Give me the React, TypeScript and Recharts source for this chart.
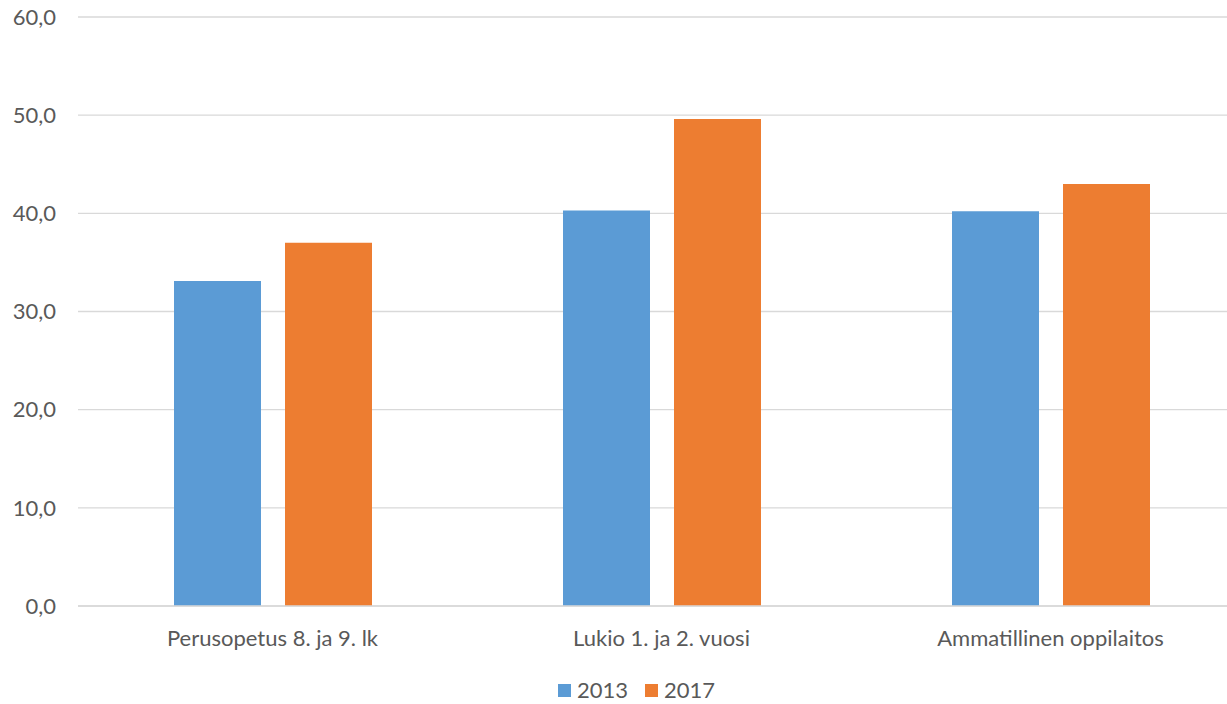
import React from 'react';
import { BarChart, Bar, XAxis, YAxis, CartesianGrid, Legend } from 'recharts';

const categories = ['Perusopetus 8. ja 9. lk', 'Lukio 1. ja 2. vuosi', 'Ammatillinen oppilaitos'];
const values2013 = [33.1, 40.3, 40.2];
const values2017 = [37.0, 49.6, 43.0];
const yTicks = [0, 10, 20, 30, 40, 50, 60];

const data = categories.map((name, i) => ({
  name,
  y2013: values2013[i],
  y2017: values2017[i],
}));

const fontFamily = 'Lato, "Open Sans", sans-serif';
const textColor = '#595959';

const fmt = (v: number) => v.toFixed(1).replace('.', ',');

const renderLegend = (props: any) => {
  const { payload = [] } = props;
  return (
    <div style={{ display: 'flex', justifyContent: 'center', alignItems: 'center', gap: 17 }}>
      {payload.map((entry: any) => (
        <div key={entry.value} style={{ display: 'flex', alignItems: 'center', gap: 6 }}>
          <span style={{ width: 13, height: 13, background: entry.color, display: 'inline-block' }} />
          <span style={{ color: textColor, fontSize: 22, fontFamily, lineHeight: '28px' }}>{entry.value}</span>
        </div>
      ))}
    </div>
  );
};

export default function App() {
  return (
    <div style={{ position: 'absolute', left: 0, top: 0, width: 1227, height: 704, overflow: 'hidden', fontFamily }}>
      <BarChart
        width={1245}
        height={704}
        data={data}
        margin={{ top: 17, right: 0, left: 0, bottom: 14 }}
        barGap={24}
      >
        <CartesianGrid vertical={false} stroke="#D9D9D9" strokeWidth={1.3} />
        <XAxis
          dataKey="name"
          tickLine={false}
          axisLine={{ stroke: '#D9D9D9', strokeWidth: 1.3 }}
          tick={{ fill: textColor, fontSize: 22, fontFamily }}
          tickMargin={18}
          height={50}
        />
        <YAxis
          domain={[0, 60]}
          ticks={yTicks}
          width={78}
          axisLine={false}
          tickLine={false}
          tickSize={0}
          tickMargin={22}
          tickFormatter={fmt}
          tick={{ fill: textColor, fontSize: 22, fontFamily }}
        />
        <Legend
          verticalAlign="bottom"
          height={34}
          content={renderLegend}
          wrapperStyle={{ left: 0, width: 1273, top: 676, bottom: 'auto' }}
        />
        <Bar dataKey="y2013" name="2013" fill="#5B9BD5" barSize={87} isAnimationActive={false} />
        <Bar dataKey="y2017" name="2017" fill="#ED7D31" barSize={87} isAnimationActive={false} />
      </BarChart>
    </div>
  );
}
